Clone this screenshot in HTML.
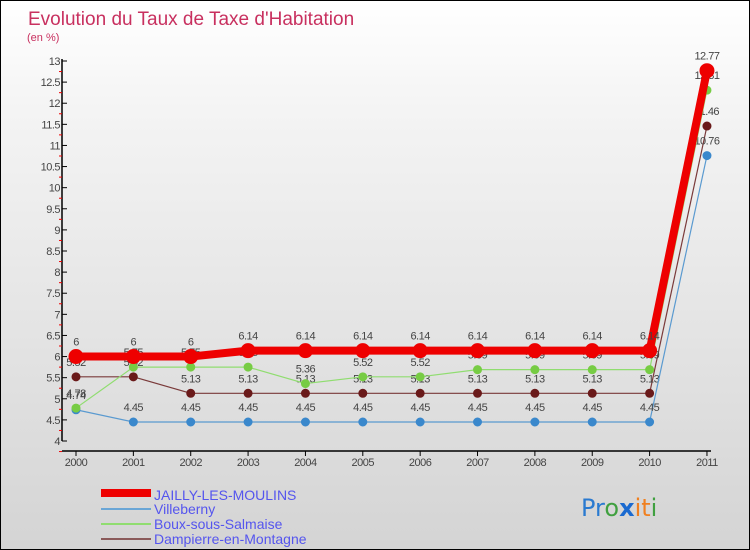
<!DOCTYPE html>
<html><head><meta charset="utf-8"><style>
body{margin:0;}
#wrap{width:748px;height:548px;border:1px solid #000;background:linear-gradient(#fff,#f4f4f4 20%,#d4d4d4);position:relative;overflow:hidden;font-family:"Liberation Sans",sans-serif;}
svg{position:absolute;left:0;top:0}
</style></head><body>
<div id="wrap">
<svg id="c" width="750" height="550">
<text x="27" y="24" font-size="19" fill="#c8305f">Evolution du Taux de Taxe d'Habitation</text>
<text x="26" y="40" font-size="11" fill="#c8305f">(en %)</text>
<rect x="100" y="488" width="50" height="8" fill="#e00"/>
<rect x="100" y="507" width="50" height="2" fill="#6aa6d6"/>
<rect x="100" y="522" width="50" height="2" fill="#90dd70"/>
<rect x="100" y="537" width="50" height="2" fill="#8a5a5a"/>
<g font-size="14" fill="#5555ee">
<text x="153" y="499">JAILLY-LES-MOULINS</text>
<text x="153" y="513">Villeberny</text>
<text x="153" y="528">Boux-sous-Salmaise</text>
<text x="153" y="543">Dampierre-en-Montagne</text>
</g>
<text x="580" y="515" font-size="24" font-family="'DejaVu Sans',sans-serif"><tspan fill="#2a7ad0">Pr</tspan><tspan fill="#40a040">o</tspan><tspan fill="#1a6ad0" font-weight="bold">x</tspan><tspan fill="#f08020">it</tspan><tspan fill="#40a040">i</tspan></text>
</svg>
</div>
<script>
const years=["2000","2001","2002","2003","2004","2005","2006","2007","2008","2009","2010","2011"];
const jailly=[6,6,6,6.14,6.14,6.14,6.14,6.14,6.14,6.14,6.14,12.77];
const villeberny=[4.74,4.45,4.45,4.45,4.45,4.45,4.45,4.45,4.45,4.45,4.45,10.76];
const boux=[4.78,5.75,5.75,5.75,5.36,5.52,5.52,5.69,5.69,5.69,5.69,12.31];
const dampierre=[5.52,5.52,5.13,5.13,5.13,5.13,5.13,5.13,5.13,5.13,5.13,11.46];
const yTicks=[4,4.5,5,5.5,6,6.5,7,7.5,8,8.5,9,9.5,10,10.5,11,11.5,12,12.5,13];
const NS="http://www.w3.org/2000/svg";
const svg=document.getElementById('c');
const X=i=>75+i*57.36;
const Y=v=>440-(v-4)*(380/9);
function mk(t,a,p){const e=document.createElementNS(NS,t);for(const k in a)e.setAttribute(k,a[k]);(p||svg).appendChild(e);return e;}
const ax=mk('g',{});


const yl=mk('line',{x1:61,y1:58,x2:61,y2:440,stroke:'#000','stroke-width':1.5},ax);


const xl=mk('line',{x1:61,y1:450,x2:710,y2:450,stroke:'#000','stroke-width':1.5},ax);


yTicks.forEach(v=>{
 const y=Y(v);
 mk('line',{x1:61,y1:y,x2:66,y2:y,stroke:'#000'},ax);
 mk('line',{x1:58,y1:y+10.55,x2:61,y2:y+10.55,stroke:'#e00'},ax);
 const t=mk('text',{x:59,y:y+4,'text-anchor':'end','font-size':11,fill:'#444','letter-spacing':'-0.5'},ax);
 t.textContent=String(v);
 
 
});
years.forEach((yr,i)=>{
 mk('line',{x1:X(i),y1:450,x2:X(i),y2:455,stroke:'#000'},ax);
 const t=mk('text',{x:X(i),y:465,'text-anchor':'middle','font-size':11,fill:'#444','letter-spacing':'-0.5'},ax);
 t.textContent=yr;
 
 
});
function series(name,data,color,w,r,dot){
 const g=mk('g',{});
 
 
 const pl=mk('polyline',{points:data.map((v,i)=>X(i)+','+Y(v)).join(' '),fill:'none',stroke:color,'stroke-width':w,'stroke-linejoin':'round'},g);
 
 
 data.forEach((v,i)=>{
  const c=mk('circle',{cx:X(i),cy:Y(v),r:r,fill:dot,stroke:dot},g);
  
  
  const t=mk('text',{x:X(i),y:Y(v)-11,'text-anchor':'middle','font-size':11,fill:'#444','letter-spacing':'-0.5'},g);
  t.textContent=String(v);
  
  
 });
}
series('dampierre',dampierre,'#7a3a3a',1.2,4,'#6a1a1a');
series('villeberny',villeberny,'#5a9ad0',1.2,4,'#3a88cc');
series('boux',boux,'#90dd70',1.2,4,'#77cc44');
series('jailly',jailly,'#ee0000',8,7,'#ee0000');
</script>
</body></html>
